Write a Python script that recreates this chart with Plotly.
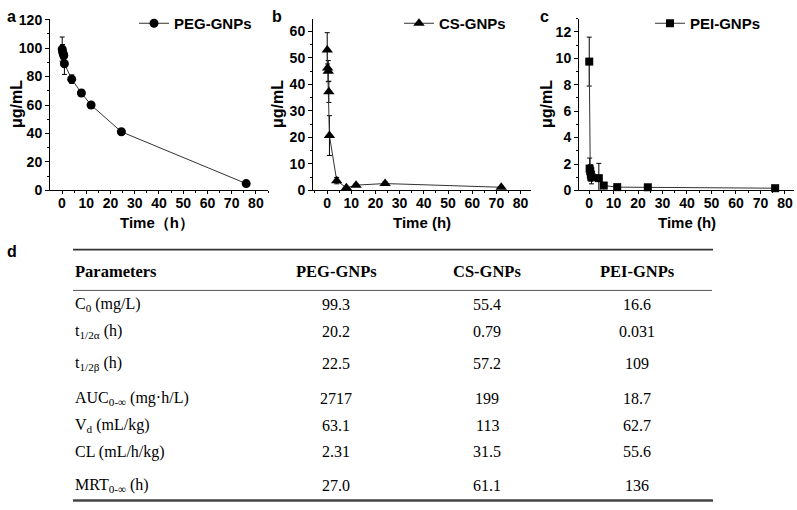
import plotly.graph_objects as go

W, H = 797, 510

# ---------------- data ----------------
t_peg = [0.083, 0.25, 0.5, 0.75, 1, 4, 8, 12, 24.5, 76]
c_peg = [99.3, 97.5, 96.0, 94.8, 89.0, 78.2, 68.5, 60.0, 41.2, 4.8]
e_peg = [8.5, 5.0, 3.0, 3.0, 7.5, 3.0, 1.0, 1.0, 1.0, 1.0]

t_cs = [0.083, 0.25, 0.5, 0.75, 1, 4, 8, 12, 24, 72]
c_cs = [53.0, 46.2, 45.0, 37.2, 20.7, 3.7, 1.0, 2.0, 2.6, 1.2]
e_cs = [6.5, 1.5, 4.0, 4.0, 7.5, 1.2, 0.5, 0.5, 0.6, 0.3]

t_pei = [0.083, 0.25, 0.5, 0.75, 1, 4, 6, 11.5, 24, 76]
c_pei = [9.75, 1.65, 1.45, 1.2, 1.0, 0.93, 0.37, 0.25, 0.24, 0.17]
e_pei = [1.85, 0.8, 0.5, 0.5, 0.5, 1.12, 0.1, 0.05, 0.05, 0.05]

series_names = ["PEG-GNPs", "CS-GNPs", "PEI-GNPs"]

table_header = ["Parameters", "PEG-GNPs", "CS-GNPs", "PEI-GNPs"]
table_params = ["C<sub>0</sub> (mg/L)", "t<sub>1/2α</sub> (h)", "t<sub>1/2β</sub> (h)",
                "AUC<sub>0-∞</sub> (mg·h/L)", "V<sub>d</sub> (mL/kg)",
                "CL (mL/h/kg)", "MRT<sub>0-∞</sub> (h)"]
table_peg = ["99.3", "20.2", "22.5", "2717", "63.1", "2.31", "27.0"]
table_cs = ["55.4", "0.79", "57.2", "199", "113", "31.5", "61.1"]
table_pei = ["16.6", "0.031", "109", "18.7", "62.7", "55.6", "136"]

# ---------------- helpers ----------------
def px(x):
    return x / W

def py(y):
    return 1 - y / H

SANS = "Liberation Sans"
SERIF = "Liberation Serif"
LINE = "#333333"

fig = go.Figure()

specs = [
    (t_peg, c_peg, e_peg, "circle", 9, "x", "y", "legend"),
    (t_cs, c_cs, e_cs, "triangle-up", 10, "x2", "y2", "legend2"),
    (t_pei, c_pei, e_pei, "square", 8, "x3", "y3", "legend3"),
]
for (t, c, e, sym, sz, xa, ya, lg), name in zip(specs, series_names):
    fig.add_trace(go.Scatter(
        x=t, y=c, name=name, mode="lines+markers",
        xaxis=xa, yaxis=ya, legend=lg,
        line=dict(color=LINE, width=1),
        marker=dict(symbol=sym, size=sz, color="black"),
        error_y=dict(type="data", array=e, visible=True, color="black",
                     thickness=1, width=2.5),
        cliponaxis=False,
    ))

ydom = [py(189), py(12)]
xdoms = [[px(50), px(268)], [px(313), px(531)], [px(579), px(794)]]
xranges = [[-4.95, 85], [-5.8, 84.3], [-4.1, 83.7]]
yranges = [[0, 120.7], [0, 64.8], [0, 13.0]]
ydticks = [20, 10, 2]
yminor = [10, 5, 1]

tickfont = dict(family=SANS, size=14, color="black", weight="bold")
for i in range(3):
    sfx = "" if i == 0 else str(i + 1)
    fig.layout["xaxis" + sfx] = dict(
        domain=xdoms[i], range=xranges[i], anchor="y" + sfx,
        showline=True, linecolor="black", linewidth=1,
        showgrid=False, zeroline=False,
        ticks="outside", ticklen=3, tickwidth=1, tickcolor="black",
        tick0=0, dtick=10, tickfont=tickfont, ticklabelstandoff=-3,
        minor=dict(ticks="outside", ticklen=2, dtick=5, tickcolor="black", showgrid=False),
    )
    fig.layout["yaxis" + sfx] = dict(
        domain=ydom, range=yranges[i], anchor="x" + sfx,
        showline=True, linecolor="black", linewidth=1,
        showgrid=False, zeroline=False,
        ticks="outside", ticklen=4, tickwidth=1, tickcolor="black",
        tick0=0, dtick=ydticks[i], tickfont=tickfont,
        minor=dict(ticks="outside", ticklen=2, dtick=yminor[i], tickcolor="black", showgrid=False),
    )

legfont = dict(family=SANS, size=15, color="black", weight="bold")
leg_pos = [(134, 0), (399, 0), (650, 0)]
for i, (lx, ly) in enumerate(leg_pos):
    key = "legend" if i == 0 else "legend" + str(i + 1)
    fig.layout[key] = dict(
        x=px(lx), y=py(ly), xanchor="left", yanchor="top",
        bgcolor="rgba(0,0,0,0)", borderwidth=0, font=legfont,
        itemwidth=30, tracegroupgap=0,
    )

ann = []
# panel letters
for letter, (x, y) in zip(["a", "b", "c", "d"], [(5, 10), (270, 10), (538, 10), (5, 252)]):
    ann.append(dict(text="<b>%s</b>" % letter, x=px(x), y=py(y), xref="paper", yref="paper",
                    xanchor="left", yanchor="middle", showarrow=False,
                    font=dict(family=SANS, size=16, color="black")))
# axis titles
xt = ["Time（h）", "Time (h)", "Time (h)"]
xtx = [157, 422, 687]
for s, x in zip(xt, xtx):
    ann.append(dict(text="<b>%s</b>" % s, x=px(x), y=py(222), xref="paper", yref="paper",
                    xanchor="center", yanchor="middle", showarrow=False,
                    font=dict(family=SANS, size=15, color="black")))
for x in [16, 277, 546]:
    ann.append(dict(text="<b>μg/mL</b>", x=px(x), y=py(100), xref="paper", yref="paper",
                    xanchor="center", yanchor="middle", showarrow=False, textangle=-90,
                    font=dict(family=SANS, size=16, color="black")))

# table
col_x = [73, 336, 487, 637]
header_y = 272
row_y = [307, 334, 367, 403, 431, 458, 493]
for j, h in enumerate(table_header):
    ann.append(dict(text="<b>%s</b>" % h, x=px(col_x[j]), y=py(header_y),
                    xref="paper", yref="paper",
                    xanchor="left" if j == 0 else "center", yanchor="middle",
                    showarrow=False, font=dict(family=SERIF, size=16.5, color="black")))
cols = [table_params, table_peg, table_cs, table_pei]
for j, col in enumerate(cols):
    for r, val in enumerate(col):
        ann.append(dict(text=val, x=px(col_x[j]), y=py(row_y[r]),
                        xref="paper", yref="paper",
                        xanchor="left" if j == 0 else "center", yanchor="middle",
                        showarrow=False, font=dict(family=SERIF, size=16, color="black")))

shapes = [
    dict(type="line", xref="paper", yref="paper", x0=px(73), x1=px(713), y0=py(250), y1=py(250),
         line=dict(color="#333333", width=1.8)),
    dict(type="line", xref="paper", yref="paper", x0=px(73), x1=px(712), y0=py(292), y1=py(292),
         line=dict(color="#555555", width=1)),
    dict(type="line", xref="paper", yref="paper", x0=px(73), x1=px(713), y0=py(508.5), y1=py(508.5),
         line=dict(color="#444444", width=2.5)),
]

fig.update_layout(
    width=W, height=H, autosize=False,
    margin=dict(l=0, r=0, t=0, b=0),
    paper_bgcolor="white", plot_bgcolor="white",
    showlegend=True, annotations=ann, shapes=shapes,
)

fig.write_html("out.html", config={"displayModeBar": False},
               post_script="document.body.style.margin='0';document.body.style.overflow='hidden';")
